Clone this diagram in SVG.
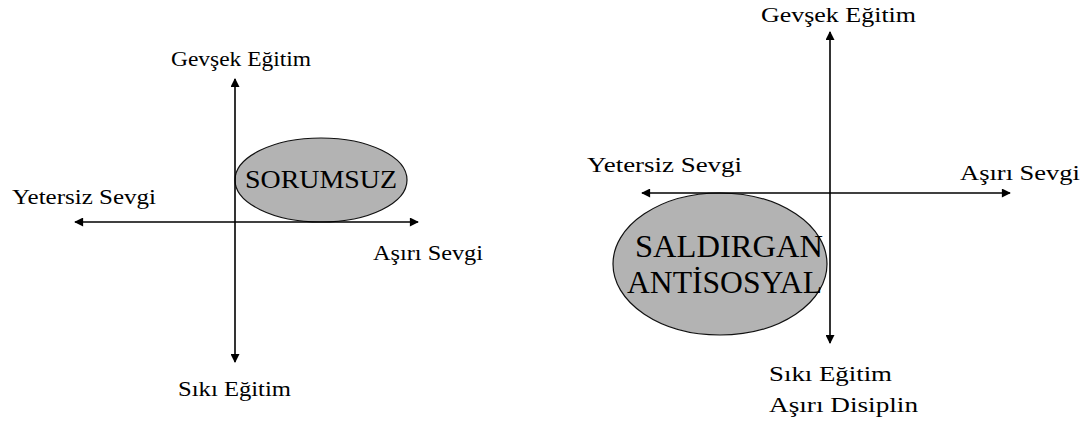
<svg xmlns="http://www.w3.org/2000/svg" width="1089" height="423" viewBox="0 0 1089 423">
  <style>
    .lbl { font-family: "Liberation Serif", "Times New Roman", serif; font-size: 22px; fill: #000; }
    .big { font-family: "Liberation Serif", "Times New Roman", serif; fill: #000; }
    .blob { fill: #b3b3b3; stroke: #111; stroke-width: 1.2; }
    .axis { stroke: #000; stroke-width: 1.6; fill: none; marker-start: url(#arr); marker-end: url(#arr); }
  </style>
  <defs>
    <marker id="arr" viewBox="0 0 10 10" refX="9" refY="5" markerWidth="10" markerHeight="9" markerUnits="userSpaceOnUse" orient="auto-start-reverse">
      <path d="M0,0 L10,5 L0,10 z" fill="#000"/>
    </marker>
  </defs>
  <rect width="1089" height="423" fill="#fff"/>

  <g id="sorumsuz">
    <ellipse class="blob" cx="321" cy="180" rx="86" ry="42"/>
    <text class="big" x="245" y="188" font-size="26" textLength="152" lengthAdjust="spacingAndGlyphs">SORUMSUZ</text>
  </g>
  <g id="saldirgan">
    <ellipse class="blob" cx="720" cy="264" rx="107" ry="71"/>
    <text class="big" x="635" y="257" font-size="32" textLength="188" lengthAdjust="spacingAndGlyphs">SALDIRGAN</text>
    <text class="big" x="627" y="293" font-size="32" textLength="195" lengthAdjust="spacingAndGlyphs">ANTİSOSYAL</text>
  </g>

  <g id="connectors">
    <line class="axis" x1="75" y1="222" x2="418" y2="222"/>
    <line class="axis" x1="235" y1="79" x2="235" y2="362"/>
    <line class="axis" x1="642" y1="193" x2="1010" y2="193"/>
    <line class="axis" x1="830" y1="32" x2="830" y2="343"/>
  </g>

  <g id="left-top"><text class="lbl" x="171" y="66" textLength="140" lengthAdjust="spacingAndGlyphs">Gevşek Eğitim</text></g>
  <g id="left-left"><text class="lbl" x="12" y="204" textLength="144" lengthAdjust="spacingAndGlyphs">Yetersiz Sevgi</text></g>
  <g id="left-right"><text class="lbl" x="373" y="260" textLength="110" lengthAdjust="spacingAndGlyphs">Aşırı Sevgi</text></g>
  <g id="left-bottom"><text class="lbl" x="178" y="396" textLength="113" lengthAdjust="spacingAndGlyphs">Sıkı Eğitim</text></g>

  <g id="right-top"><text class="lbl" x="761" y="22" textLength="155" lengthAdjust="spacingAndGlyphs">Gevşek Eğitim</text></g>
  <g id="right-left"><text class="lbl" x="587" y="172" textLength="155" lengthAdjust="spacingAndGlyphs">Yetersiz Sevgi</text></g>
  <g id="right-right"><text class="lbl" x="960" y="180" textLength="120" lengthAdjust="spacingAndGlyphs">Aşırı Sevgi</text></g>
  <g id="right-bottom">
    <text class="lbl" x="769" y="381" textLength="123" lengthAdjust="spacingAndGlyphs">Sıkı Eğitim</text>
    <text class="lbl" x="769" y="412" textLength="149" lengthAdjust="spacingAndGlyphs">Aşırı Disiplin</text>
  </g>
</svg>
